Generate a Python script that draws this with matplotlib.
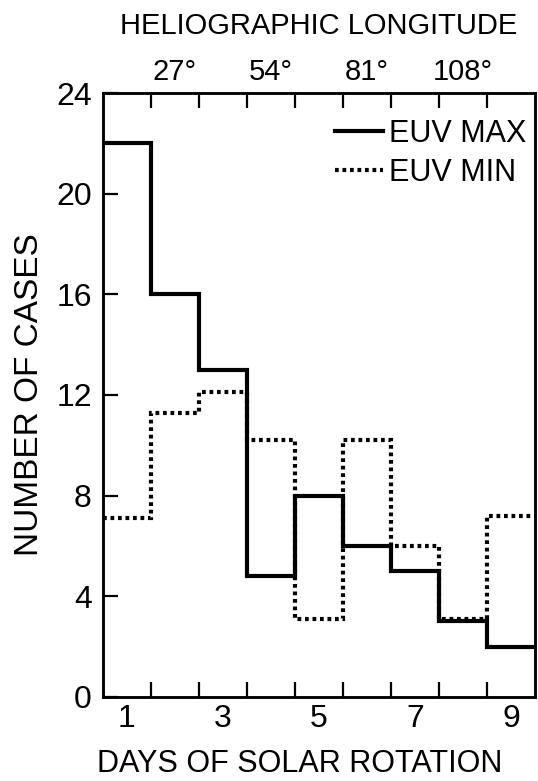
import numpy as np
import matplotlib.pyplot as plt

plt.rcParams['font.family'] = ['Liberation Sans', 'DejaVu Sans']

# data: number of cases per day of solar rotation
days = [1, 2, 3, 4, 5, 6, 7, 8, 9]
euv_max = [22, 16, 13, 4.8, 8, 6, 5, 3, 2]
euv_min = [7.1, 11.3, 12.1, 10.2, 3.1, 10.2, 6, 3.1, 7.2]
day_labels = [1, 3, 5, 7, 9]
lon_days = [2, 4, 6, 8]
lon_labels = ['27°', '54°', '81°', '108°']

edges = np.arange(len(days) + 1) + 0.5

fig = plt.figure(figsize=(5.38, 7.81), dpi=100)
ax = fig.add_axes([0.1914, 0.1076, 0.8030, 0.7733])

ax.stairs(euv_max, edges, baseline=None, color='black', lw=3.0,
          label='EUV MAX')
ax.stairs(euv_min, edges, baseline=None, color='black', lw=3.0,
          linestyle=(0, (0.9, 0.9)), label='EUV MIN')

ax.set_xlim(edges[0], edges[-1])
ax.set_ylim(0, 24)

# ticks at bin edges, labels at bin centres
ax.set_xticks(edges[1:-1])
ax.set_xticklabels([])
ax.set_xticks(day_labels, minor=True)
ax.set_xticklabels([str(d) for d in day_labels], minor=True)
ax.tick_params(axis='x', which='major', direction='in', length=11, width=1.6)
ax.tick_params(axis='x', which='minor', length=0, labelsize=23, pad=5)

ax.set_yticks(np.arange(0, 25, 4))
ax.tick_params(axis='y', direction='in', length=11, width=1.6, labelsize=23, pad=8)

for s in ax.spines.values():
    s.set_linewidth(1.8)

ax.set_xlabel('DAYS OF SOLAR ROTATION', fontsize=22, va='top')
ax.xaxis.set_label_coords(0.456, -0.086)
ax.set_ylabel('NUMBER OF CASES', fontsize=24, labelpad=8)

# top axis: heliographic longitude
top = ax.twiny()
top.set_xlim(ax.get_xlim())
top.set_xticks(edges[1:-1])
top.set_xticklabels([])
top.set_xticks(lon_days, minor=True)
top.set_xticklabels(lon_labels, minor=True)
top.tick_params(axis='x', which='major', direction='in', length=11, width=1.6)
top.tick_params(axis='x', which='minor', length=0, labelsize=21, pad=5)
top.set_xlabel('HELIOGRAPHIC LONGITUDE', fontsize=21, labelpad=17)
for s in top.spines.values():
    s.set_linewidth(1.8)

ax.legend(loc='upper right', frameon=False, fontsize=22, handlelength=1.55,
          handletextpad=0.2, labelspacing=0.3, borderaxespad=0.0,
          bbox_to_anchor=(1.008, 0.978))

plt.savefig('out.png', dpi=100)
